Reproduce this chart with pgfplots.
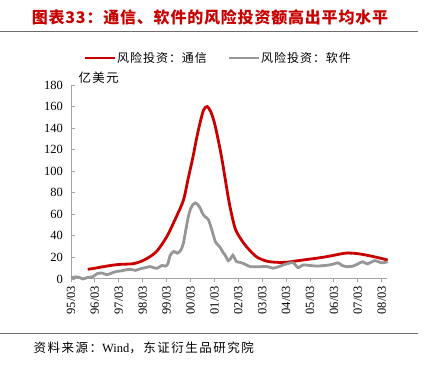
\documentclass[border=0pt]{standalone}
\usepackage{pgfplots}
\pgfplotsset{compat=1.18}
\usepackage{fontspec}
\setmainfont{Liberation Serif}
\newfontfamily\cjk{Noto Sans CJK SC}
\definecolor{myred}{RGB}{200,0,0}
\definecolor{mygray}{RGB}{150,150,150}
\definecolor{axgray}{RGB}{165,165,165}
\definecolor{rulegray}{RGB}{110,110,110}
\begin{document}
\begin{tikzpicture}[x=1bp,y=1bp]
\useasboundingbox (0,0) rectangle (427,366);
\fill[white] (0,0) rectangle (427,366);
% title
\node[font=\cjk\bfseries\fontsize{16bp}{18bp}\selectfont\addfontfeature{LetterSpace=5}, text=myred] at (210,349) {图表33：通信、软件的风险投资额高出平均水平};
\draw[rulegray, line width=1.5bp] (0,334.5) -- (418,334.5);
\draw[rulegray, line width=1bp] (0,32) -- (418,32);
\node[font=\cjk\fontsize{12.5bp}{14bp}\selectfont\addfontfeature{LetterSpace=12}, anchor=west] at (30,18) {资料来源：{\rmfamily Wind}，东证衍生品研究院};
\node[font=\cjk\fontsize{12.5bp}{14bp}\selectfont\addfontfeature{LetterSpace=10}, anchor=west] at (75,288) {亿美元};
% legend
\draw[myred, line width=2.5bp] (85,308) -- (115,308);
\node[font=\cjk\fontsize{12bp}{14bp}\selectfont\addfontfeature{LetterSpace=8}, anchor=west, inner sep=0pt] at (117,308) {风险投资：通信};
\draw[mygray, line width=2.5bp] (229,308) -- (259,308);
\node[font=\cjk\fontsize{12bp}{14bp}\selectfont\addfontfeature{LetterSpace=8}, anchor=west, inner sep=0pt] at (261,308) {风险投资：软件};
\begin{axis}[
  at={(71bp,87bp)}, anchor=south west,
  scale only axis, width=316bp, height=194bp,
  xmin=0, xmax=13.22, ymin=0, ymax=180,
  axis lines*=left,
  axis line style={axgray, line width=1bp},
  ytick={0,20,...,180},
  xtick={0,1,...,13},
  xticklabels={95/03,96/03,97/03,98/03,99/03,00/03,01/03,02/03,03/03,04/03,05/03,06/03,07/03,08/03},
  x tick label style={rotate=90, anchor=east},
  y tick label style={xshift=-1bp},
  tick label style={font=\fontsize{12.5bp}{14bp}\selectfont},
  /pgf/number format/assume math mode=true,
  xtick style={axgray, line width=1bp},
  ytick style={axgray, line width=0.8bp, xshift=3.5bp},
  tick align=outside,
  major tick length=3.5bp,
  enlargelimits=false, clip=false,
]
\addplot[myred, line width=2.8bp, smooth, tension=0.5] coordinates {
(0.7,9) (1.0,10) (1.5,12) (2.0,13.5) (2.6,14.2) (3.0,17) (3.3,20.7) (3.6,26) (4.0,39) (4.35,55) (4.7,73) (4.9,93) (5.1,113) (5.25,130) (5.4,145) (5.55,157) (5.7,160) (5.85,155) (6.0,145) (6.15,130) (6.3,113) (6.45,93) (6.6,73) (6.75,57) (6.9,45) (7.2,34) (7.5,26) (7.8,20) (8.2,16.5) (8.6,15.5) (9.0,15.5) (9.5,17) (10.0,18.5) (10.5,20) (11.0,22) (11.5,24) (12.0,23.5) (12.5,21.5) (13.0,19) (13.25,17.5)
};
\addplot[mygray, line width=2.8bp, smooth, tension=0.4] coordinates {
(0,1) (0.2,2) (0.35,1.5) (0.5,0) (0.7,1.5) (0.9,2) (1.1,5) (1.3,5.5) (1.5,4) (1.7,5.5) (1.9,7) (2.1,7.5) (2.3,8.5) (2.5,9) (2.7,8) (2.9,9.5) (3.1,10.5) (3.3,11.5) (3.45,10.5) (3.6,10) (3.8,12.5) (3.95,12) (4.05,14) (4.15,22) (4.3,25.5) (4.45,24) (4.6,27) (4.7,33) (4.8,45) (4.9,57) (5.0,65) (5.1,69) (5.2,70.5) (5.3,69) (5.4,66) (5.5,61) (5.6,58) (5.75,55) (5.9,45) (6.03,35) (6.13,32) (6.25,29) (6.35,25) (6.45,22) (6.58,17) (6.68,19) (6.77,22) (6.85,19) (6.93,16) (7.05,15.5) (7.2,14.5) (7.5,11.5) (7.9,11.4) (8.2,11.6) (8.45,10) (8.7,11.5) (8.87,13) (9.1,14.5) (9.3,15) (9.5,10.5) (9.7,13) (10.0,12.5) (10.3,12) (10.6,12.5) (10.8,13) (11.0,14) (11.17,15) (11.35,12.5) (11.55,11.4) (11.8,12) (12.0,14) (12.2,16) (12.4,14) (12.7,17) (13.0,15) (13.25,16)
};
\end{axis}
\end{tikzpicture}
\end{document}
